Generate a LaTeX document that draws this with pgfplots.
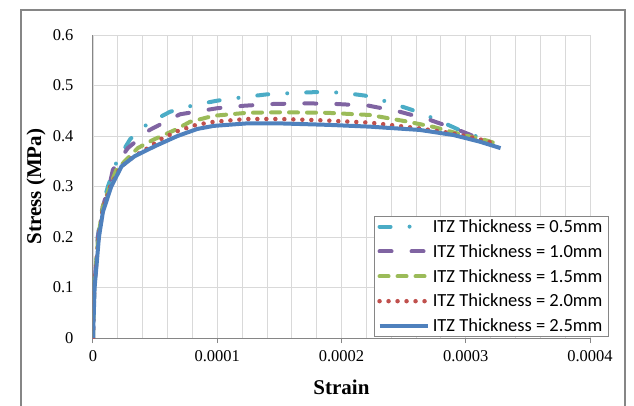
\documentclass[border=0pt]{standalone}
\usepackage{pgfplots}
\pgfplotsset{compat=1.18}
\usepackage{fontspec}
\setmainfont{Liberation Serif}
\newfontfamily\legfont{Carlito}
\definecolor{cCyan}{RGB}{75,172,198}
\definecolor{cPurple}{RGB}{128,100,162}
\definecolor{cGreen}{RGB}{155,187,89}
\definecolor{cRed}{RGB}{192,80,77}
\definecolor{cBlue}{RGB}{79,129,189}
\definecolor{axgray}{RGB}{134,134,134}
\definecolor{gridgray}{RGB}{217,217,217}
\begin{document}
\begin{tikzpicture}
\begin{scope}
\clip (-93pt,-67pt) rectangle (541pt,338pt);
\draw[axgray, line width=1.6pt] (-72pt,-80pt) -- (-72pt,328pt) -- (532pt,328pt) -- (532pt,-80pt);
\end{scope}
\begin{axis}[
  at={(0,0)}, anchor=south west,
  scale only axis, width=497pt, height=303pt,
  xmin=0, xmax=0.0004, ymin=0, ymax=0.6,
  axis x line*=bottom, axis y line*=left,
  axis line style={draw=axgray, line width=1pt, -},
  scaled x ticks=false, scaled y ticks=false,
  xtick={0,0.0001,0.0002,0.0003,0.0004},
  xticklabels={0,0.0001,0.0002,0.0003,0.0004},
  ytick={0,0.1,0.2,0.3,0.4,0.5,0.6},
  yticklabels={0,0.1,0.2,0.3,0.4,0.5,0.6},
  minor x tick num=4,
  grid=both,
  major grid style={draw=gridgray, line width=0.9pt},
  minor grid style={draw=gridgray, line width=0.9pt},
  x tick style={draw=axgray, line width=1pt},
  minor x tick style={draw=none},
  y tick style={draw=none},
  tick align=outside, major tick length=5pt,
  ticklabel style={font=\fontsize{16.5}{19}\selectfont},
  /pgf/number format/assume math mode=true,
  yticklabel style={xshift=-11pt},
  xticklabel style={yshift=-4pt},
  xlabel={\textbf{Strain}},
  ylabel={\textbf{Stress (MPa)}},
  label style={font=\fontsize{21}{25}\selectfont},
  xlabel style={at={(axis description cs:0.5,-0.1617)}, anchor=center},
  ylabel style={at={(axis description cs:-0.1147,0.5)}, anchor=center},
  legend cell align=left,
  legend image code/.code={\draw[#1] (0pt,0pt) -- (48pt,0pt);},
  legend style={at={(1.038,0.003)}, anchor=south east, draw=axgray, line width=0.8pt, fill=white,
    font=\legfont\fontsize{18.5}{22}\selectfont, inner xsep=3pt, inner ysep=3pt, row sep=9.5pt,
    nodes={inner xsep=3pt, inner ysep=0.5pt}},
]
% 0.5 mm
\addplot[cCyan, line width=4pt, line cap=round, dash pattern=on 11pt off 19pt on 0pt off 19pt] coordinates {
(0,0) (0.000001,0.1) (0.0000038,0.2) (0.0000075,0.26) (0.000012,0.30) (0.0000193,0.351)
(0.00003,0.394) (0.0000443,0.425) (0.000062,0.448) (0.000081,0.461) (0.0001,0.470)
(0.00012,0.4766) (0.00014,0.4825) (0.00016,0.485) (0.00018,0.487) (0.0002,0.486)
(0.000219,0.480) (0.000238,0.467) (0.000257,0.4515) (0.000276,0.433) (0.000293,0.414)
(0.00031,0.398) (0.000322,0.386)};
\addlegendentry{ITZ Thickness = 0.5mm}
% 1.0 mm
\addplot[cPurple, line width=4pt, line cap=round, dash pattern=on 12pt off 20pt] coordinates {
(0,0) (0.000001,0.1) (0.000004,0.2) (0.0000078,0.26) (0.000013,0.30) (0.000016,0.333)
(0.000028,0.376) (0.0000456,0.412) (0.00007,0.443) (0.0001,0.455) (0.000122,0.460)
(0.000145,0.4634) (0.000172,0.4647) (0.000196,0.4634) (0.000222,0.460) (0.000247,0.448)
(0.000271,0.432) (0.000293,0.413) (0.000314,0.392) (0.00032,0.387)};
\addlegendentry{ITZ Thickness = 1.0mm}
% 1.5 mm
\addplot[cGreen, line width=4pt, line cap=round, dash pattern=on 9pt off 9pt] coordinates {
(0,0) (0.000001,0.1) (0.0000042,0.2) (0.000008,0.26) (0.0000135,0.30) (0.0000188,0.333)
(0.000036,0.376) (0.000048,0.392) (0.000066,0.412) (0.000078,0.428) (0.000097,0.440)
(0.000124,0.446) (0.00015,0.447) (0.000188,0.446) (0.000223,0.4416) (0.000252,0.429)
(0.000274,0.418) (0.000295,0.404) (0.000317,0.391) (0.000322,0.387)};
\addlegendentry{ITZ Thickness = 1.5mm}
% 2.0 mm
\addplot[cRed, line width=4.5pt, line cap=round, dash pattern=on 0pt off 9pt] coordinates {
(0,0) (0.000001,0.1) (0.0000045,0.2) (0.000008,0.255) (0.000014,0.30) (0.000022,0.338)
(0.000032,0.358) (0.000044,0.376) (0.0000555,0.395) (0.0000684,0.410) (0.000083,0.422)
(0.000097,0.428) (0.000124,0.4337) (0.00015,0.4337) (0.000185,0.431) (0.000223,0.4264)
(0.000263,0.415) (0.00029,0.405) (0.000309,0.395) (0.000322,0.386)};
\addlegendentry{ITZ Thickness = 2.0mm}
% 2.5 mm
\addplot[cBlue, line width=4pt] coordinates {
(0,0) (0.0000013,0.1) (0.0000048,0.2) (0.000008,0.25) (0.0000147,0.3) (0.000023,0.34)
(0.0000335,0.36) (0.00005,0.38) (0.000068,0.40) (0.000084,0.414) (0.000097,0.420)
(0.000124,0.425) (0.00015,0.425) (0.00019,0.422) (0.000223,0.4185) (0.000263,0.412)
(0.00029,0.402) (0.000311,0.389) (0.000328,0.376)};
\addlegendentry{ITZ Thickness = 2.5mm}
\end{axis}
\path[use as bounding box] (-93pt,-67pt) rectangle (541pt,338pt);
\end{tikzpicture}
\end{document}
